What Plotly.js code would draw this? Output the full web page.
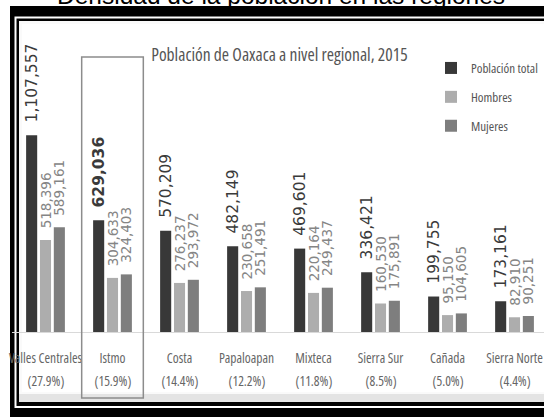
<!DOCTYPE html>
<html>
<head>
<meta charset="utf-8">
<script src="https://cdn.plot.ly/plotly-3.0.1.min.js"></script>
<style>
html,body{margin:0;padding:0;background:#fff;}
#chart{width:544px;height:417px;}
#chart .xtick text{font-stretch:75%;}
#chart .legendtext{font-stretch:75%;}
#chart .annotation-text{font-stretch:75%;}
</style>
</head>
<body>
<div id="chart"></div>
<script>
const categories = ["Valles Centrales", "Istmo", "Costa", "Papaloapan", "Mixteca", "Sierra Sur", "Cañada", "Sierra Norte"];
const shares = ["27.9%", "15.9%", "14.4%", "12.2%", "11.8%", "8.5%", "5.0%", "4.4%"];
const poblacionTotal = [1107557, 629036, 570209, 482149, 469601, 336421, 199755, 173161];
const hombres = [518396, 304633, 276237, 230658, 220164, 160530, 95150, 82910];
const mujeres = [589161, 324403, 293972, 251491, 249437, 175891, 104605, 90251];
const highlighted = "Istmo";

const W = 544, H = 417;
const px = v => v / W;
const py = v => 1 - v / H;
const pad = '\u00a0\u00a0';
const fmt = v => v.toLocaleString('en-US');
const condensed = '"Open Sans", "DejaVu Sans Condensed", sans-serif';
const labelFont = '"DejaVu Sans", Verdana, sans-serif';

const totalText = poblacionTotal.map((v, i) => pad + (categories[i] === highlighted ? '<b>' + fmt(v) + '</b>' : fmt(v)));

const common = {type: 'bar', x: categories, textposition: 'outside', textangle: -90,
  constraintext: 'none', cliponaxis: false, hoverinfo: 'skip'};

const traces = [
  Object.assign({}, common, {name: 'Población total', y: poblacionTotal, text: totalText,
    marker: {color: '#383838'}, legendgroup: 'a',
    textfont: {family: labelFont, size: 15.5, color: '#3a3a3a'}}),
  Object.assign({}, common, {name: 'Hombres', y: hombres, text: hombres.map(v => pad + fmt(v)),
    marker: {color: '#adadad'}, legendgroup: 'b',
    textfont: {family: labelFont, size: 13.5, color: '#858585'}}),
  Object.assign({}, common, {name: 'Mujeres', y: mujeres, text: mujeres.map(v => pad + fmt(v)),
    marker: {color: '#7e7e7e'}, legendgroup: 'c',
    textfont: {family: labelFont, size: 13.5, color: '#858585'}})
];

const hi = categories.indexOf(highlighted);
const shapes = [
  {type: 'rect', xref: 'paper', yref: 'paper', x0: px(10), x1: px(560), y0: py(417), y1: py(6), fillcolor: '#000', line: {width: 0}, layer: 'below'},
  {type: 'rect', xref: 'paper', yref: 'paper', x0: px(14.5), x1: px(560), y0: py(408), y1: py(16.5), fillcolor: '#fff', line: {width: 0}, layer: 'below'},
  {type: 'rect', xref: 'paper', yref: 'paper', x0: px(16.5), x1: px(560), y0: py(406), y1: py(18.5), fillcolor: '#000', line: {width: 0}, layer: 'below'},
  {type: 'rect', xref: 'paper', yref: 'paper', x0: px(19), x1: px(560), y0: py(402), y1: py(21), fillcolor: '#fafafa', line: {width: 0}, layer: 'below'},
  {type: 'rect', xref: 'paper', yref: 'paper', x0: px(22), x1: px(560), y0: py(392), y1: py(24), fillcolor: '#ffffff', line: {width: 0}, layer: 'below'},
  {type: 'rect', xref: 'paper', yref: 'paper', x0: px(19), x1: px(560), y0: py(402), y1: py(394), fillcolor: '#e4e4e4', line: {width: 0}, layer: 'below'},
  {type: 'rect', xref: 'x', yref: 'paper', x0: hi - 0.46, x1: hi + 0.46, y0: py(398), y1: py(57),
    line: {color: '#8c8c8c', width: 1.5}, fillcolor: 'rgba(0,0,0,0)', layer: 'above'}
];

const shareAnnotations = categories.map((c, i) => ({
  text: '(' + shares[i] + ')', xref: 'x', yref: 'paper', x: c, y: py(381),
  xanchor: 'center', yanchor: 'middle', showarrow: false,
  font: {family: condensed, size: 13.5, color: '#666'}}));

const layout = {
  width: W, height: H,
  margin: {l: 0, r: 0, t: 0, b: 0, autoexpand: false},
  paper_bgcolor: '#fff', plot_bgcolor: 'rgba(0,0,0,0)',
  barmode: 'group', bargap: 0.38, bargroupgap: 0.2,
  showlegend: true,
  legend: {x: px(431), y: py(53), xanchor: 'left', yanchor: 'top', tracegroupgap: 9,
    font: {family: condensed, size: 13, color: '#555'}, bgcolor: 'rgba(0,0,0,0)', itemwidth: 30},
  xaxis: {domain: [px(12), 1], range: [-0.5, 7.44], type: 'category',
    tickmode: 'array', tickvals: categories, ticktext: categories, tickangle: 0,
    tickfont: {family: condensed, size: 13.5, color: '#666'},
    showline: true, linecolor: '#d9d9d9', linewidth: 1, ticks: '', showgrid: false,
    ticklabelstandoff: 14, fixedrange: true},
  yaxis: {domain: [py(332), py(50)], range: [0, 1587800], visible: false, showgrid: false, zeroline: false, fixedrange: true},
  shapes: shapes,
  annotations: [
    {text: 'Densidad de la población en las regiones', xref: 'paper', yref: 'paper', x: px(281), y: py(11),
     xanchor: 'center', yanchor: 'bottom', showarrow: false,
     font: {family: '"Liberation Sans", Arial, sans-serif', size: 24.5, color: '#000'}},
    {text: 'Población de Oaxaca a nivel regional, 2015', xref: 'paper', yref: 'paper', x: px(279), y: py(54),
     xanchor: 'center', yanchor: 'middle', showarrow: false,
     font: {family: condensed, size: 17.5, color: '#555'}}
  ].concat(shareAnnotations)
};

Plotly.newPlot('chart', traces, layout, {displayModeBar: false, staticPlot: true});
</script>
</body>
</html>
